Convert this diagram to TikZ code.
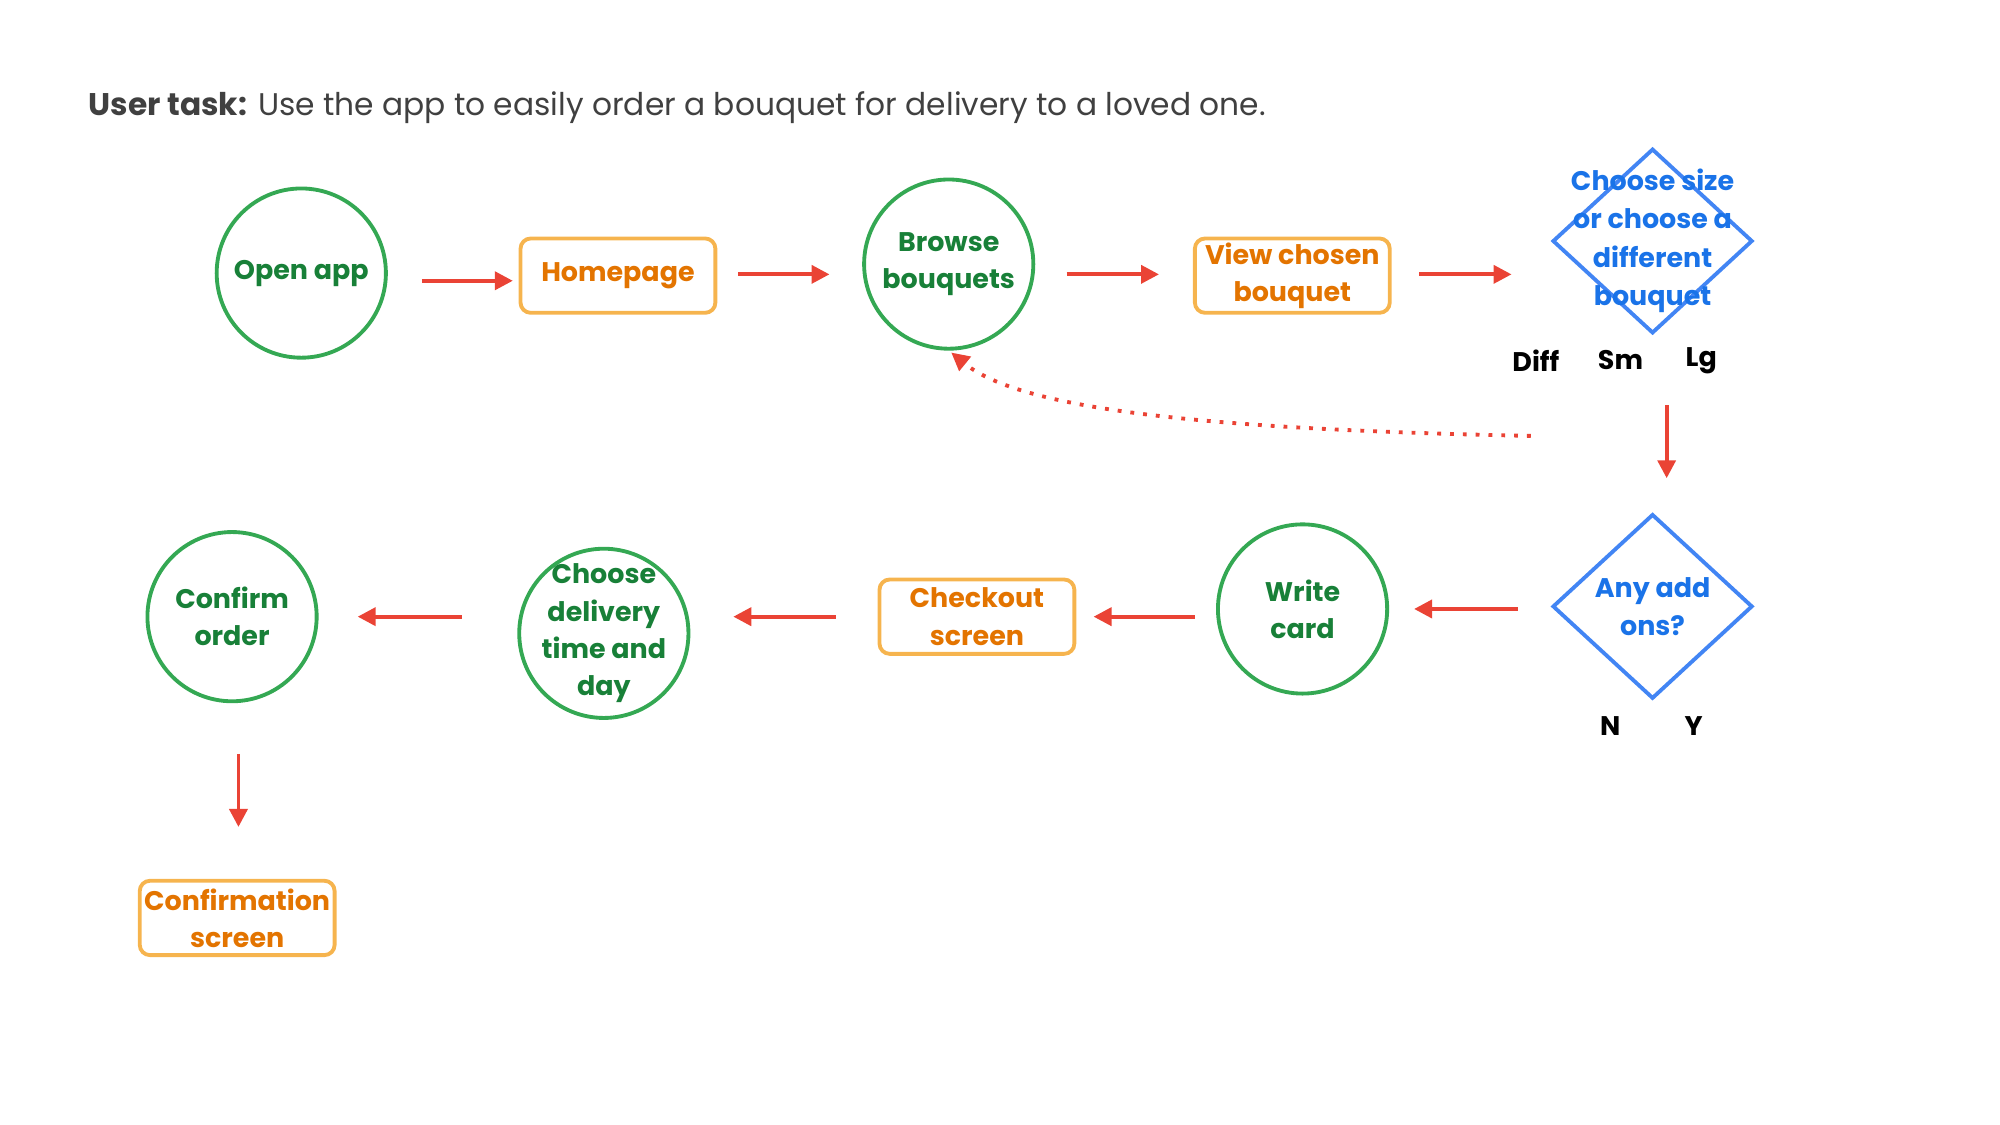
\documentclass[tikz,border=0pt]{standalone}
\usepackage{fontspec}
\setmainfont{Poppins}
\usetikzlibrary{arrows.meta,shapes.geometric}
\definecolor{gS}{HTML}{34A853}\definecolor{gT}{HTML}{188038}
\definecolor{oS}{HTML}{F6B44E}\definecolor{oT}{HTML}{E37400}
\definecolor{bS}{HTML}{4285F4}\definecolor{bT}{HTML}{1A73E8}
\definecolor{rA}{HTML}{EA4335}
\begin{document}
\begin{tikzpicture}[x=0.5pt,y=-0.5pt,
 nf/.style={font=\bfseries\fontsize{10.5}{14.5}\selectfont,align=center},
 df/.style={font=\bfseries\fontsize{10.5}{15}\selectfont,align=center},
 circ/.style={circle,draw=gS,line width=1.5pt,minimum size=66pt,inner sep=0pt,text=gT,nf},
 box/.style={rectangle,rounded corners=4pt,draw=oS,line width=1.5pt,minimum width=76pt,minimum height=29pt,inner sep=0pt,text=oT,nf},
 dia/.style={diamond,draw=bS,line width=1.5pt,minimum width=78pt,minimum height=72pt,inner sep=0pt},
 lab/.style={font=\bfseries\fontsize{10.5}{13}\selectfont,text=black},
 arr/.style={draw=rA,line width=1.5pt,-{Triangle[length=7pt,width=7pt]}}]
\useasboundingbox (0,0) rectangle (1560,877.5);
\node[anchor=base west,font=\fontsize{12.2}{15}\selectfont,text=black!75] (title) at (62,90) {\textbf{User task:} Use the app to easily order a bouquet for delivery to a loved one.};
\node[circ] (open) at (235,213) {Open app};
\node[box] (home) at (482,215) {Homepage};
\node[circ] (browse) at (740,206) {Browse\\bouquets};
\node[box] (view) at (1008,215) {View chosen\\bouquet};
\node[dia,label={[df,text=bT]center:Choose size\\or choose a\\different\\bouquet}] (size) at (1289,188) {};
\node[lab] (diff) at (1198,281) {Diff};
\node[lab] (sm) at (1264,281) {Sm};
\node[lab] (lg) at (1327,281) {Lg};
\node[dia,label={[df,text=bT]center:Any add\\ons?}] (addons) at (1289,473) {};
\node[lab] (n) at (1256,566) {N};
\node[lab] (y) at (1321,566) {Y};
\node[circ] (write) at (1016,475) {Write\\card};
\node[box] (check) at (762,481) {Checkout\\screen};
\node[circ,label={[nf,text=gT]center:Choose\\delivery\\time and\\day}] (deliv) at (471,494) {};
\node[circ] (confirm) at (181,481) {Confirm\\order};
\node[box] (cscreen) at (185,716) {Confirmation\\screen};
\coordinate (a1) at (329,219); \coordinate (b1) at (400,219);
\coordinate (a2) at (576,214); \coordinate (b2) at (647,214);
\coordinate (a3) at (832,214); \coordinate (b3) at (904,214);
\coordinate (a4) at (1107,214); \coordinate (b4) at (1179,214);
\coordinate (a5) at (1300,316); \coordinate (b5) at (1300,373);
\coordinate (a6) at (1184,475); \coordinate (b6) at (1103,475);
\coordinate (a7) at (932,481); \coordinate (b7) at (853,481);
\coordinate (a8) at (652,481); \coordinate (b8) at (572,481);
\coordinate (a9) at (360,481); \coordinate (b9) at (279,481);
\coordinate (a10) at (186,588); \coordinate (b10) at (186,645);
\coordinate (d0) at (1194,340); \coordinate (d1) at (742,275);
\foreach \i in {1,...,10} \draw[arr] (a\i) -- (b\i);
\draw[arr,dash pattern=on 1.5pt off 3.5pt] (d0) .. controls (945,335) and (797,320) .. (d1);
\end{tikzpicture}
\end{document}
